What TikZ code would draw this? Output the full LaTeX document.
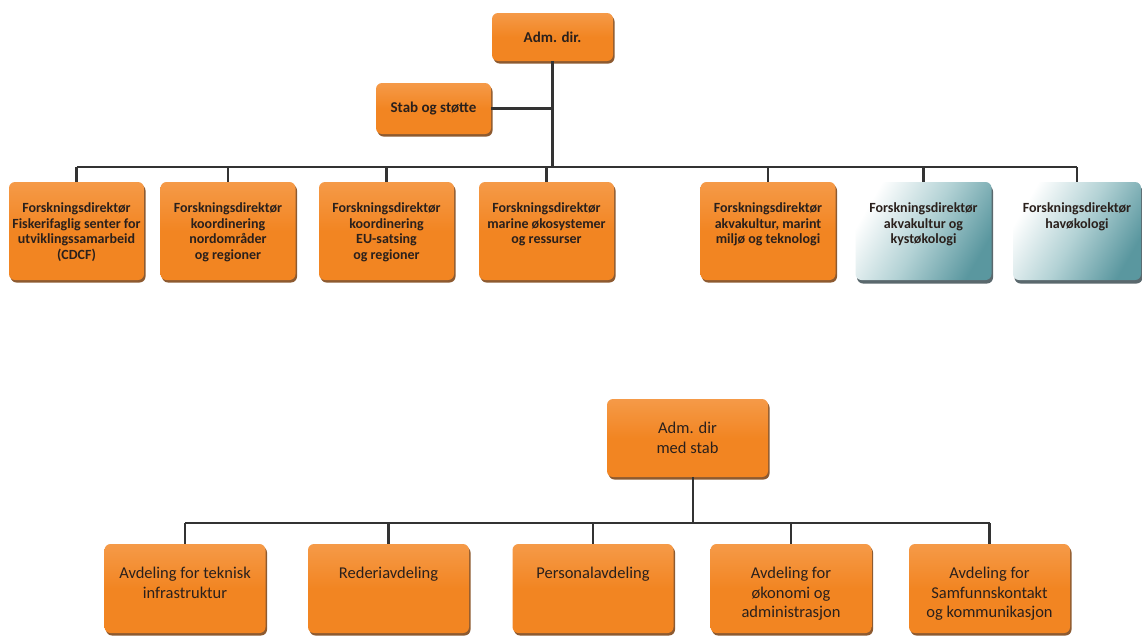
\documentclass[tikz,border=0pt]{standalone}
\usepackage{fontspec}
\setmainfont{Carlito}
\usetikzlibrary{shadows}
\definecolor{org}{HTML}{F28522}
\definecolor{orgL}{HTML}{F59A48}
\definecolor{orgD}{HTML}{7A3E0C}
\definecolor{tealc}{HTML}{5A979F}
\definecolor{tealm}{HTML}{B3D2D5}
\definecolor{tealD}{HTML}{3E4E54}
\definecolor{txt}{HTML}{2A201C}
\definecolor{ln}{HTML}{333333}
\newcommand{\tbtext}[2]{\parbox[c][98pt][t]{#1}{\vspace*{21pt}\centering #2}}
\newcommand{\bbtext}[1]{\parbox[c][89pt][t]{161pt}{\vspace*{23.5pt}\centering #1}}
\begin{document}
\begin{tikzpicture}[x=1pt,y=-1pt,
  obox/.style={rounded corners=6pt, inner sep=0pt, top color=orgL, bottom color=org, middle color=org,
    drop shadow={shadow xshift=1.5pt, shadow yshift=-2.5pt, fill=orgD, opacity=0.85}, text=txt},
  tbox/.style={rounded corners=6pt, inner sep=0pt, left color=white, right color=tealc, middle color=tealm,
    shading angle=60,
    drop shadow={shadow xshift=1.5pt, shadow yshift=-3.5pt, fill=tealD, opacity=0.85}, text=txt},
  topfont/.style={font=\fontsize{14}{15.5}\selectfont\bfseries},
  headfont/.style={font=\fontsize{15}{18}\selectfont\bfseries},
  botfont/.style={font=\fontsize{16.5}{19.5}\selectfont},
  conn/.style={draw=ln, line width=2.2pt}]
\useasboundingbox[fill=white] (0,0) rectangle (1142,635);

% ---- upper chart ----
\node[obox, headfont, minimum width=121pt, minimum height=48pt] (adm) at (552.5,37) {Adm. dir.};
\node[obox, headfont, minimum width=115pt, minimum height=51pt] (stab) at (433.5,108.5) {Stab og støtte};

\node[obox, topfont] (c1) at (76.5,231) {\tbtext{135pt}{Forskningsdirektør\\Fiskerifaglig senter for\\utviklingssamarbeid\\(CDCF)}};
\node[obox, topfont] (c2) at (228,231) {\tbtext{135pt}{Forskningsdirektør\\koordinering\\nordområder\\og regioner}};
\node[obox, topfont] (c3) at (386.5,231) {\tbtext{135pt}{Forskningsdirektør\\koordinering\\EU-satsing\\og regioner}};
\node[obox, topfont] (c4) at (546.5,231) {\tbtext{135pt}{Forskningsdirektør\\marine økosystemer\\og ressurser}};
\node[obox, topfont] (c5) at (768,231) {\tbtext{135pt}{Forskningsdirektør\\akvakultur, marint\\miljø og teknologi}};
\node[tbox, topfont] (c6) at (923.5,231) {\tbtext{136pt}{Forskningsdirektør\\akvakultur og\\kystøkologi}};
\node[tbox, topfont] (c7) at (1077,231) {\tbtext{128pt}{Forskningsdirektør\\havøkologi}};

\coordinate (bus) at (552,167);
\draw[conn] (adm.south) -- (adm.south |- bus);
\draw[conn] (stab.east) -- (stab.east -| adm.south);
\draw[conn] (c1.north |- bus) -- (c7.north |- bus);
\foreach \i in {1,...,7} {\draw[conn] (c\i.north |- bus) -- (c\i.north);}

% ---- lower chart ----
\node[obox, botfont, minimum width=161pt, minimum height=78pt, align=center] (adm2) at (687.5,438) {Adm. dir\\med stab};
\node[obox, botfont] (d1) at (185,588.5) {\bbtext{Avdeling for teknisk\\infrastruktur}};
\node[obox, botfont] (d2) at (388.5,588.5) {\bbtext{Rederiavdeling}};
\node[obox, botfont] (d3) at (593,588.5) {\bbtext{Personalavdeling}};
\node[obox, botfont] (d4) at (791,588.5) {\bbtext{Avdeling for\\økonomi og\\administrasjon}};
\node[obox, botfont] (d5) at (989.5,588.5) {\bbtext{Avdeling for\\Samfunnskontakt\\og kommunikasjon}};

\coordinate (bus2) at (693,523);
\draw[conn] (adm2.south -| bus2) -- (bus2);
\draw[conn] (d1.north |- bus2) -- (d5.north |- bus2);
\foreach \i in {1,...,5} {\draw[conn] (d\i.north |- bus2) -- (d\i.north);}
\end{tikzpicture}
\end{document}
